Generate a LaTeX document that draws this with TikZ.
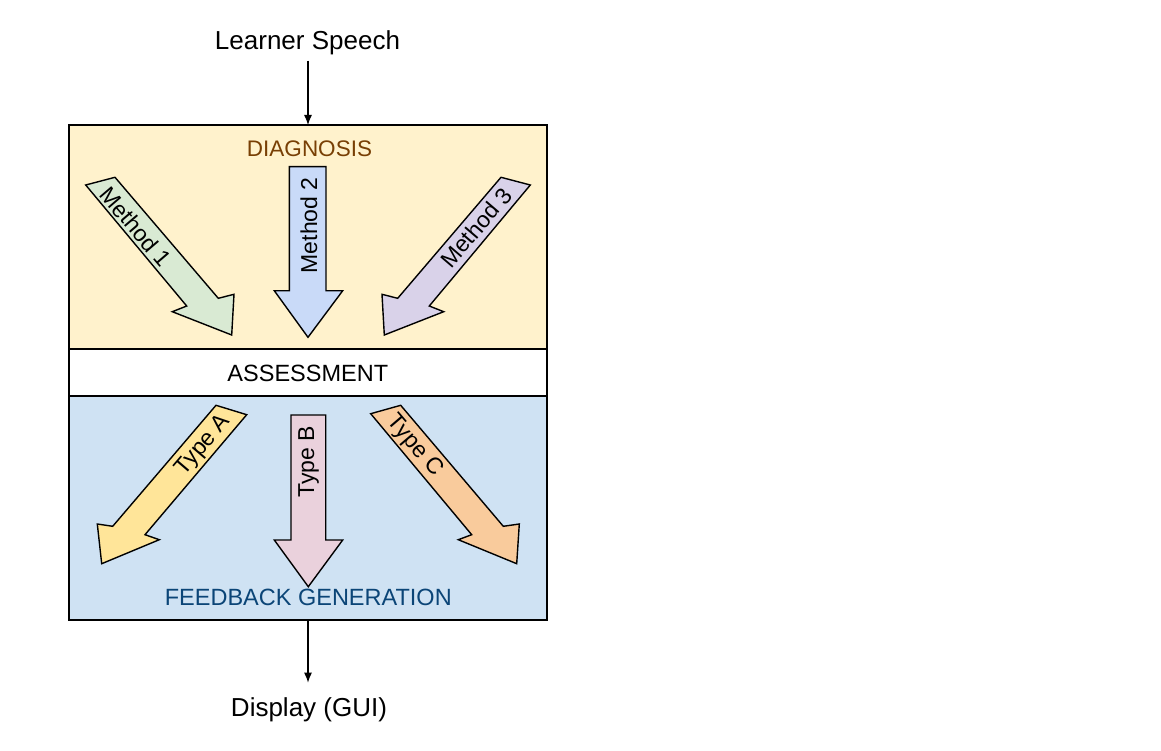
\documentclass[tikz,border=0pt]{standalone}
\usepackage{fontspec}
\setmainfont{Liberation Sans}
\usetikzlibrary{arrows.meta}
\definecolor{diagfill}{HTML}{FFF2CC}
\definecolor{fbfill}{HTML}{CFE2F3}
\definecolor{mone}{HTML}{D9EAD3}
\definecolor{mtwo}{HTML}{C9DAF8}
\definecolor{mthree}{HTML}{D9D2E9}
\definecolor{ta}{HTML}{FFE599}
\definecolor{tb}{HTML}{EAD1DC}
\definecolor{tc}{HTML}{F9CB9C}
\definecolor{diagtext}{HTML}{783F04}
\definecolor{fbtext}{HTML}{0B4577}
\tikzset{
  panel/.style={draw=black, line width=1.3pt, minimum width=478pt, inner sep=0pt, outer sep=0pt},
  blockarrow/.style={draw=black, line width=1.4pt, line join=miter},
  arrowlabel/.style={inner sep=0pt, font=\fontsize{23}{27}\selectfont},
  title/.style={inner sep=0pt, anchor=base, font=\fontsize{26}{30}\selectfont},
  connector/.style={line width=1.2pt, -{Latex[length=10pt,width=8pt]}}
}
\begin{document}
\begin{tikzpicture}[x=1pt,y=-1pt]
\useasboundingbox[fill=white] (0,0) rectangle (1161,751);
% panels
\node[panel, fill=diagfill, minimum height=224pt] (diag) at (308,237) {};
\node[panel, fill=white, minimum height=47pt] (assess) at (308,372.5) {};
\node[panel, fill=fbfill, minimum height=224pt] (feedback) at (308,508) {};
% diagnosis block arrows
\draw[blockarrow, fill=mone] (85.7,185) -- (115,177.3) -- (218.3,298.3) -- (234,294.3) -- (231.7,335) -- (172.3,311.7) -- (186.7,306) -- cycle;
\draw[blockarrow, fill=mtwo] (289.3,166.7) -- (326,166.7) -- (326,290.7) -- (342.7,290.7) -- (308,337.3) -- (274.3,290.7) -- (289.3,290.7) -- cycle;
\draw[blockarrow, fill=mthree] (530.3,185) -- (501,177.3) -- (397.7,298.3) -- (382,294.3) -- (384.3,335) -- (443.7,311.7) -- (429.3,306) -- cycle;
% feedback block arrows
\draw[blockarrow, fill=ta] (216,405.3) -- (246.7,414.7) -- (145,534.7) -- (159.3,539.7) -- (101.7,563.7) -- (97.3,524) -- (112.7,526.3) -- cycle;
\draw[blockarrow, fill=tb] (291,415) -- (325.7,415) -- (325.7,540) -- (342.7,540) -- (308.3,586.7) -- (274.3,540) -- (291,540) -- cycle;
\draw[blockarrow, fill=tc] (370.7,413.7) -- (400.7,405.3) -- (503.3,526.3) -- (519.3,524) -- (516.7,563.7) -- (458.3,539.7) -- (471.7,534.7) -- cycle;
% arrow labels
\node[arrowlabel, rotate=-49.5] (m1) at (135.8,226.7) {Method 1};
\node[arrowlabel, rotate=90] (m2) at (309,225.3) {Method 2};
\node[arrowlabel, rotate=49.5] (m3) at (476,227.5) {Method 3};
\node[arrowlabel, rotate=49.5] (tya) at (203.3,445.5) {Type A};
\node[arrowlabel, rotate=90] (tyb) at (308.5,461.7) {Type B};
\node[arrowlabel, rotate=-49.5] (tyc) at (414.5,446) {Type C};
% panel titles
\node[title, font=\fontsize{22.5}{27}\selectfont, text=diagtext] (diagtitle) at (309.5,156.7) {DIAGNOSIS};
\node[title, font=\fontsize{23.5}{27}\selectfont] (assesstitle) at (307.8,381.7) {ASSESSMENT};
\node[title, font=\fontsize{23.5}{27}\selectfont, text=fbtext] (fbtitle) at (308.3,605) {FEEDBACK GENERATION};
% input and output
\node[title] (learner) at (307.5,50) {Learner Speech};
\node[title] (display) at (309,716.7) {Display (GUI)};
\draw[connector, shorten <=5pt] (learner.south -| diag.north) -- (diag.north);
\draw[connector, shorten >=15pt] (feedback.south) -- (display.north -| feedback.south);
\end{tikzpicture}
\end{document}
